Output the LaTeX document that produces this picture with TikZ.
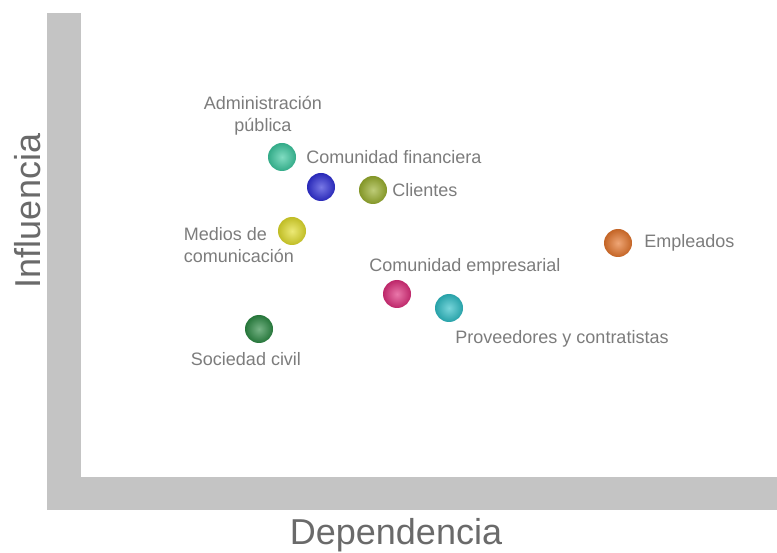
\documentclass[tikz,border=0pt]{standalone}
\usepackage{fontspec}
\setmainfont{Liberation Sans}
\usetikzlibrary{positioning}

\definecolor{axisgray}{HTML}{C4C4C4}
\definecolor{axistext}{HTML}{6A6A6A}
\definecolor{labelgray}{HTML}{7C7C7C}
\definecolor{cteal}{HTML}{3CC9A0}
\definecolor{cblue}{HTML}{3030D8}
\definecolor{colive}{HTML}{9AB02E}
\definecolor{cyellow}{HTML}{E2DE2C}
\definecolor{corange}{HTML}{E6762C}
\definecolor{cmagenta}{HTML}{DE2E7C}
\definecolor{ccyan}{HTML}{2EBEC6}
\definecolor{cgreen}{HTML}{2C8A44}

\tikzset{
  stake/.style={circle, minimum size=28pt, inner sep=0pt,
    inner color=#1!65!white, outer color=#1!85!black},
  tag/.style={text=labelgray, font=\fontsize{18}{22}\selectfont, inner sep=0pt},
  axislabel/.style={text=axistext, font=\fontsize{36}{40}\selectfont, inner sep=0pt}
}

\begin{document}
\begin{tikzpicture}[x=1pt, y=-1pt]
		\useasboundingbox (0,0) rectangle (777,553);
		% axes
		\fill[axisgray] (47,13) rectangle (81,510);
		\fill[axisgray] (47,477) rectangle (777,510);
		\node[axislabel, rotate=90] (infl) at (28,211) {Influencia};
		\node[axislabel] (dep) at (396,535) {Dependencia};

		% stakeholders
		\node[stake=cteal] (adm) at (282,157) {};
		\node[stake=cblue] (fin) at (321,187) {};
		\node[stake=colive] (cli) at (373,190) {};
		\node[stake=cyellow] (med) at (292,231) {};
		\node[stake=corange] (emp) at (618,243) {};
		\node[stake=cmagenta] (emr) at (397,294) {};
		\node[stake=ccyan] (pro) at (449,308) {};
		\node[stake=cgreen] (soc) at (259,329) {};

		\node[tag, align=center] (admlbl) at (263,116) {Administración\\pública};
		\node[tag, right=10pt of adm] (finlbl) {Comunidad financiera};
		\node[tag, right=5pt of cli] (clilbl) {Clientes};
		\node[tag, align=left] (medlbl) at (239,245) {Medios de\\comunicación};
		\node[tag, right=12pt of emp] (emplbl) {Empleados};
		\node[tag] (emrlbl) at (465,267) {Comunidad empresarial};
		\node[tag] (prolbl) at (562,339) {Proveedores y contratistas};
		\node[tag] (soclbl) at (246,359) {Sociedad civil};
\end{tikzpicture}
\end{document}
